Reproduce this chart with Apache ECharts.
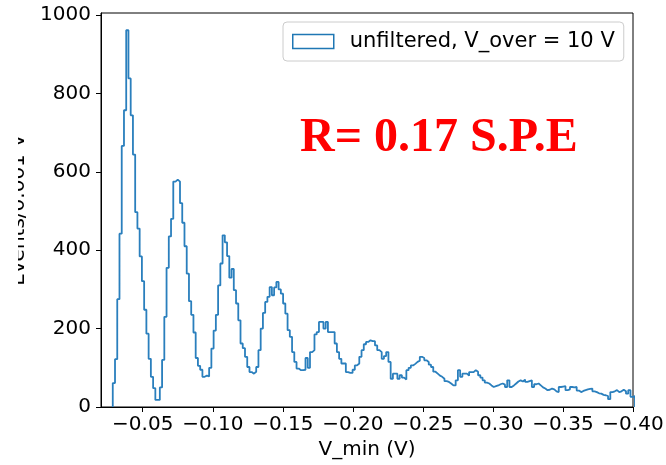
<!DOCTYPE html>
<html>
<head>
<meta charset="utf-8">
<script src="https://cdn.jsdelivr.net/npm/echarts@6/dist/echarts.min.js"></script>
<style>
  html, body { margin: 0; padding: 0; background: #fff; }
  #chart { width: 666px; height: 465px; }
</style>
</head>
<body>
<div id="chart"></div>
<script>
// histogram of V_min, bins run from binStart towards more negative voltage
var binStart = -0.0286
var binWidth = 0.0016
var counts = [
  61, 122, 275, 442, 666, 757, 961, 838, 744, 644,
  497, 455, 384, 321, 248, 187, 123, 77, 48, 18,
  18, 50, 120, 230, 355, 435, 480, 575, 580, 575,
  520, 470, 410, 340, 270, 235, 190, 125, 105, 95,
  77, 80, 78, 100, 149, 195, 235, 310, 366, 438,
  420, 385, 330, 352, 298, 264, 221, 162, 150, 128,
  102, 89, 85, 90, 102, 145, 200, 240, 268, 281,
  306, 285, 305, 319, 300, 289, 264, 238, 196, 179,
  140, 115, 98, 94, 94, 95, 125, 100, 140, 145,
  185, 191, 217, 217, 200, 217, 191, 191, 191, 162,
  140, 123, 111, 111, 89, 87, 87, 95, 106, 111,
  128, 145, 160, 166, 170, 168, 168, 157, 145, 140,
  123, 130, 140, 115, 72, 85, 85, 72, 81, 75,
  70, 94, 100, 106, 110, 115, 118, 128, 125, 119,
  115, 108, 102, 90, 85, 80, 77, 72, 66, 64,
  60, 55, 55, 68, 94, 77, 85, 85, 80, 89,
  89, 94, 90, 81, 75, 68, 62, 60, 55, 51,
  53, 55, 58, 60, 57, 51, 68, 51, 55, 60,
  65, 68, 65, 70, 64, 66, 68, 51, 58, 60,
  55, 50, 47, 43, 44, 47, 45, 40, 38, 51,
  52, 53, 43, 45, 51, 50, 51, 42, 38, 41,
  43, 45, 46, 47, 40, 38, 35, 34, 31, 30,
  28, 20, 38, 40, 43, 38, 40, 44, 40, 34,
  43, 26, 28
]
var xTicks = [-0.05, -0.10, -0.15, -0.20, -0.25, -0.30, -0.35, -0.40]
var yTicks = [0, 200, 400, 600, 800, 1000]
var legendName = 'unfiltered, V_over = 10 V'
var noteText = 'R= 0.17 S.P.E'

// step outline: start on the floor, one point per bin left edge, close at the far edge
var steps = [[binStart, 0]]
counts.forEach(function(c, i) {
  steps.push([binStart - i * binWidth, c])
})
var lastEdge = binStart - counts.length * binWidth
steps.push([lastEdge, counts[counts.length - 1]])
steps.push([lastEdge, 0])

var font = 'DejaVu Sans'
var myChart = echarts.init(document.getElementById('chart'), null, { renderer: 'canvas' })

var option = {
  backgroundColor: '#ffffff',
  animation: false,
  grid: {
    left: 101,
    right: 33,
    top: 13,
    bottom: 58,
    containLabel: false,
    outerBoundsMode: 'none',
    show: true,
    borderColor: '#000',
    borderWidth: 1,
    backgroundColor: '#fff'
  },
  legend: {
    data: [{
      name: legendName,
      icon: 'rect',
      itemStyle: { color: 'transparent', borderColor: '#1f77b4', borderWidth: 1.5 }
    }],
    left: 283,
    top: 22,
    padding: [9, 9, 9, 9],
    itemWidth: 41,
    itemHeight: 14,
    backgroundColor: 'rgba(255,255,255,0.8)',
    borderColor: '#cccccc',
    borderWidth: 1,
    borderRadius: 4,
    textStyle: {
      fontFamily: font,
      fontSize: 21,
      color: '#000',
      padding: [0, 0, 0, 11]
    }
  },
  xAxis: {
    type: 'value',
    inverse: true,
    min: -0.40,
    max: -0.0202,
    name: 'V_min (V)',
    nameLocation: 'middle',
    nameGap: 32,
    nameTextStyle: { fontFamily: font, fontSize: 20, color: '#000' },
    splitLine: { show: false },
    axisLine: { lineStyle: { color: '#000', width: 1 } },
    axisTick: { length: 5, lineStyle: { color: '#000' }, customValues: xTicks },
    axisLabel: {
      customValues: xTicks,
      fontFamily: font,
      fontSize: 20,
      color: '#000',
      margin: 8,
      formatter: function(v) {
        return '\u2212' + Math.abs(v).toFixed(2)
      }
    }
  },
  yAxis: {
    type: 'value',
    min: 0,
    max: 1005,
    name: 'Events/0.001 V',
    nameLocation: 'middle',
    nameRotate: 90,
    nameGap: 70,
    nameTextStyle: { fontFamily: font, fontSize: 20, color: '#000' },
    splitLine: { show: false },
    axisLine: { show: true, lineStyle: { color: '#000', width: 1 } },
    axisTick: { show: true, length: 5, lineStyle: { color: '#000' }, customValues: yTicks },
    axisLabel: {
      customValues: yTicks,
      fontFamily: font,
      fontSize: 20,
      color: '#000',
      margin: 10,
      formatter: function(v) {
        return String(v)
      }
    }
  },
  graphic: [
    {
      type: 'text',
      x: 300,
      y: 139,
      z: 50,
      style: {
        text: noteText,
        fill: '#ff0000',
        fontFamily: 'Liberation Serif',
        fontWeight: 'bold',
        fontSize: 48,
        verticalAlign: 'middle'
      }
    },
    {
      // the left edge of the original figure is cropped through the y label
      type: 'rect',
      z: 100,
      shape: { x: 0, y: 0, width: 18, height: 465 },
      style: { fill: '#fff' }
    }
  ],
  series: [{
    name: legendName,
    type: 'line',
    step: 'end',
    showSymbol: false,
    data: steps,
    itemStyle: { color: '#1f77b4' },
    lineStyle: { color: '#2a7fbd', width: 1.8 }
  }]
}

myChart.setOption(option)
window.addEventListener('resize', () => { myChart.resize() })
</script>
</body>
</html>
